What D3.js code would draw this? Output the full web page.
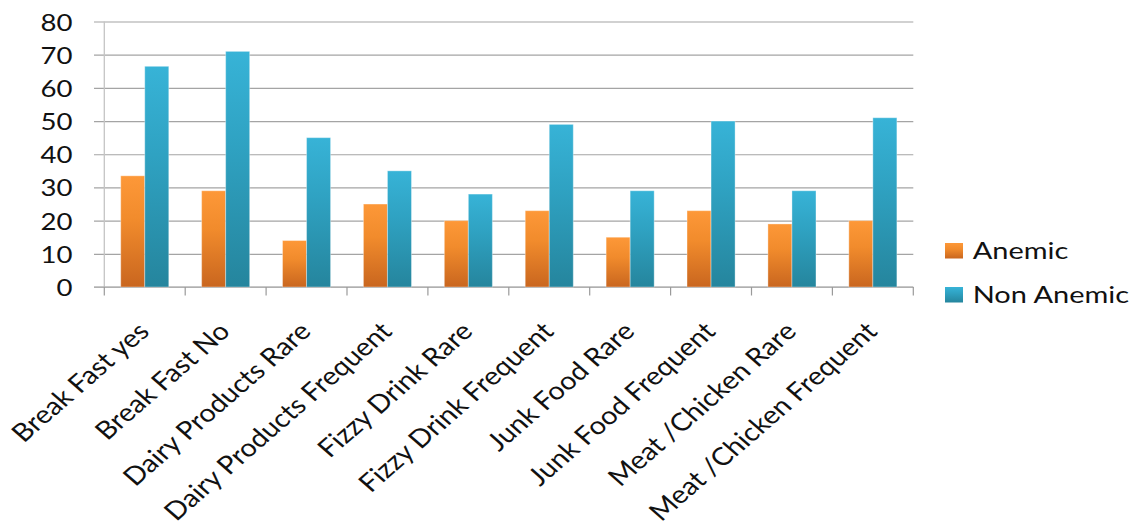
<!DOCTYPE html>
<html lang="en">
	<head>
		<meta charset="utf-8">
		<title>Anemic vs Non Anemic</title>
		<script type="text/javascript" src="https://d3js.org/d3.v7.min.js"></script>
		<style type="text/css">
body{
	margin: 0;
	background: #fff;
}
text{
	font-family: Lato, "Open Sans", sans-serif;
	fill: #111;
}
		</style>
	</head>
	<body>
		<script>
//Data
var categories = ["Break Fast yes", "Break Fast No", "Dairy Products Rare", "Dairy Products Frequent",
	"Fizzy Drink Rare", "Fizzy Drink Frequent", "Junk Food Rare", "Junk Food Frequent",
	"Meat /Chicken Rare", "Meat /Chicken Frequent"];
var seriesNames = ["Anemic", "Non Anemic"];
var anemic = [33.5, 29, 14, 25, 20, 23, 15, 23, 19, 20];
var nonAnemic = [66.5, 71, 45, 35, 28, 49, 29, 50, 29, 51];
var yTicks = [0, 10, 20, 30, 40, 50, 60, 70, 80];

//Width and height
const w = 1133;
const h = 523;
const plotLeft = 104.3, plotRight = 913.3, plotTop = 21.5, plotBottom = 287;

var svg = d3.select("body")
			.append("svg")
			.attr("width", w)
			.attr("height", h);

//gradients for the bars
var defs = svg.append("defs");
var grads = [["gOrange", "#fd9838", "#f18b2c", "#c9661f"], ["gBlue", "#37b3d7", "#2fa2c2", "#25859d"]];
grads.forEach(function(g) {
	var lg = defs.append("linearGradient").attr("id", g[0])
		.attr("x1", 0).attr("y1", 0).attr("x2", 0).attr("y2", 1);
	lg.append("stop").attr("offset", "0%").attr("stop-color", g[1]);
	lg.append("stop").attr("offset", "40%").attr("stop-color", g[2]);
	lg.append("stop").attr("offset", "100%").attr("stop-color", g[3]);
});
var fills = {"Anemic": "url(#gOrange)", "Non Anemic": "url(#gBlue)"};

var x = d3.scaleBand().domain(categories).range([plotLeft, plotRight]);
var bw = x.bandwidth();
var x1 = d3.scaleBand().domain(seriesNames).range([bw * 0.203, bw * 0.797]);
var y = d3.scaleLinear().domain([0, 80]).range([plotBottom, plotTop]);

//helper: stretch text sideways around its own x (the reference text is wide)
function stretch(sel, sx) {
	sel.attr("transform", function() {
		var tx = +d3.select(this).attr("x") || 0;
		return "translate(" + tx + ",0) scale(" + sx + ",1) translate(" + (-tx) + ",0)";
	});
}

//y axis with gridlines
var yAxis = svg.append("g")
	.attr("transform", "translate(94,0)")
	.call(d3.axisLeft(y).tickValues(yTicks).tickSize(-(plotRight - 94)).tickPadding(21.5));
yAxis.select(".domain").remove();
yAxis.selectAll("line").attr("stroke", "#a4a4a4").attr("stroke-width", 1.2);
yAxis.selectAll("text")
	.attr("fill", "#111")
	.style("font-size", "23px")
	.attr("dy", null)
	.attr("y", 8.5)
	.call(stretch, 1.2);

//vertical axis line
svg.append("line")
	.attr("x1", plotLeft).attr("x2", plotLeft)
	.attr("y1", plotTop).attr("y2", plotBottom)
	.attr("stroke", "#c4c4c4").attr("stroke-width", 1.3);

//bottom axis line + category ticks
svg.append("line")
	.attr("x1", 94).attr("x2", plotRight)
	.attr("y1", plotBottom).attr("y2", plotBottom)
	.attr("stroke", "#b4b4b4").attr("stroke-width", 1.5);
var edges = categories.map(function(c) { return x(c); }).concat([plotRight]);
svg.selectAll("line.ctick")
	.data(edges)
	.enter()
	.append("line")
	.attr("class", "ctick")
	.attr("x1", function(d) { return d; }).attr("x2", function(d) { return d; })
	.attr("y1", plotBottom).attr("y2", plotBottom + 8.5)
	.attr("stroke", "#9a9a9a").attr("stroke-width", 1.2);

//bars
var rows = categories.map(function(c, i) {
	return {cat: c, values: [{s: "Anemic", v: anemic[i]}, {s: "Non Anemic", v: nonAnemic[i]}]};
});
var groups = svg.selectAll("g.cat")
	.data(rows)
	.enter()
	.append("g")
	.attr("class", "cat")
	.attr("transform", function(d) { return "translate(" + x(d.cat) + ",0)"; });
groups.selectAll("rect")
	.data(function(d) { return d.values; })
	.enter()
	.append("rect")
	.attr("x", function(d) { return x1(d.s); })
	.attr("width", x1.bandwidth())
	.attr("y", function(d) { return y(d.v); })
	.attr("height", function(d) { return plotBottom - y(d.v); })
	.attr("fill", function(d) { return fills[d.s]; })
	.attr("stroke", "rgba(255,255,255,0.35)")
	.attr("stroke-width", 1);

//category labels, rotated
svg.selectAll("text.clabel")
	.data(categories)
	.enter()
	.append("text")
	.attr("class", "clabel")
	.attr("text-anchor", "end")
	.style("font-size", "25px")
	.attr("transform", function(d) {
		return "translate(" + (x(d) + bw / 2 + 6) + "," + 333 + ") scale(1.15,1) rotate(-45)";
	})
	.text(function(d) { return d; });

//legend
var legend = svg.selectAll("g.leg")
	.data(seriesNames)
	.enter()
	.append("g")
	.attr("class", "leg")
	.attr("transform", function(d, i) { return "translate(945," + (243 + i * 44) + ")"; });
legend.append("rect")
	.attr("width", 18).attr("height", 15.5)
	.attr("fill", function(d) { return fills[d]; });
legend.append("text")
	.attr("x", 27.7).attr("y", 16)
	.style("font-size", "23px")
	.call(stretch, 1.26)
	.text(function(d) { return d; });
		</script>
	</body>
</html>
